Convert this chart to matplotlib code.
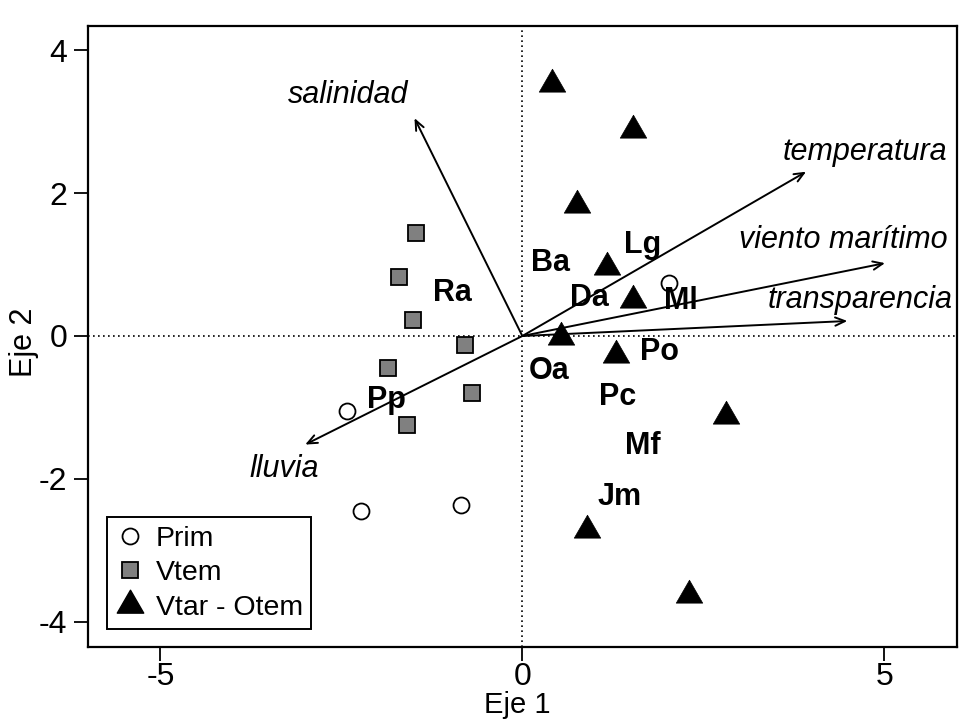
import matplotlib.pyplot as plt
from matplotlib.path import Path
from matplotlib.lines import Line2D

plt.rcParams['font.family'] = ['Liberation Sans', 'DejaVu Sans']
plt.rcParams['axes.unicode_minus'] = False

# sample scores (Eje 1, Eje 2)
prim_x = [-2.42, -2.23, -0.85, 2.03]
prim_y = [-1.05, -2.45, -2.36, 0.74]

vtem_x = [-1.47, -1.71, -1.51, -0.79, -1.86, -0.69, -1.59]
vtem_y = [1.44, 0.82, 0.23, -0.13, -0.45, -0.80, -1.24]

vtar_x = [0.41, 1.53, 0.76, 1.17, 1.53, 0.53, 1.29, 2.82, 0.90, 2.30]
vtar_y = [3.53, 2.88, 1.84, 0.97, 0.50, -0.01, -0.27, -1.12, -2.71, -3.63]

# species labels
sp_names = ['Ba', 'Lg', 'Ra', 'Da', 'Ml', 'Po', 'Oa', 'Pp', 'Pc', 'Mf', 'Jm']
sp_x = [0.39, 1.66, -0.97, 0.93, 2.19, 1.89, 0.37, -1.88, 1.31, 1.66, 1.34]
sp_y = [1.02, 1.27, 0.60, 0.53, 0.49, -0.23, -0.49, -0.90, -0.85, -1.54, -2.26]

# environmental vectors
env_names = ['salinidad', 'temperatura', 'viento marítimo', 'transparencia', 'lluvia']
env_x = [-1.49, 3.92, 5.01, 4.49, -3.0]
env_y = [3.05, 2.30, 1.02, 0.21, -1.52]
env_lab_x = [-2.41, 4.73, 4.43, 4.66, -3.29]
env_lab_y = [3.38, 2.58, 1.34, 0.50, -1.86]

tri = Path([(-1, -0.577), (1, -0.577), (0, 1.155), (-1, -0.577)],
           [Path.MOVETO, Path.LINETO, Path.LINETO, Path.CLOSEPOLY])

fig = plt.figure(figsize=(9.64, 7.2), dpi=100)
ax = fig.add_axes([0.0913, 0.1018, 0.9011, 0.8621])

ax.axhline(0, color='k', lw=1.2, ls=(0, (1, 2)), zorder=1)
ax.axvline(0, color='k', lw=1.2, ls=(0, (1, 2)), zorder=1)

for i in range(len(env_names)):
    ax.annotate('', xy=(env_x[i], env_y[i]), xytext=(0, 0),
                arrowprops=dict(arrowstyle='->,head_length=0.7,head_width=0.3',
                                lw=1.4, color='k', shrinkA=0, shrinkB=0), zorder=2)
    ax.text(env_lab_x[i], env_lab_y[i], env_names[i], fontsize=22, style='italic',
            ha='center', va='center')

ax.plot(prim_x, prim_y, 'o', ms=11.5, mfc='white', mec='k', mew=1.3, ls='none', zorder=3)
ax.plot(vtem_x, vtem_y, 's', ms=11.5, mfc='#808080', mec='k', mew=1.3, ls='none', zorder=3)
ax.plot(vtar_x, vtar_y, marker=tri, ms=22, mfc='k', mec='k', mew=0.5, ls='none', zorder=3)

for n, x, y in zip(sp_names, sp_x, sp_y):
    ax.text(x, y, n, fontsize=22, fontweight='bold', ha='center', va='center', zorder=4)

ax.set_xlim(-6, 6)
ax.set_ylim(-4.35, 4.34)
ax.set_xticks([-5, 0, 5])
ax.set_yticks([4, 2, 0, -2, -4])
ax.tick_params(labelsize=23, length=10, width=1.3, pad=5)
ax.tick_params(axis='x', pad=1)
for s in ax.spines.values():
    s.set_linewidth(1.6)

ax.set_xlabel('Eje 1', fontsize=21)
ax.set_ylabel('Eje 2', fontsize=22)
ax.xaxis.set_label_coords(0.494, -0.072)
ax.yaxis.set_label_coords(-0.056, 0.49)

handles = [
    Line2D([], [], marker='o', ms=11.5, mfc='white', mec='k', mew=1.3, ls='none'),
    Line2D([], [], marker='s', ms=11.5, mfc='#808080', mec='k', mew=1.3, ls='none'),
    Line2D([], [], marker=tri, ms=22, mfc='k', mec='k', ls='none'),
]
leg = ax.legend(handles, ['Prim', 'Vtem', 'Vtar - Otem'], loc='lower left',
                bbox_to_anchor=(0.022, 0.028), fontsize=20.5, fancybox=False,
                edgecolor='k', framealpha=1, handlelength=1.0, handletextpad=0.4,
                borderpad=0.3, labelspacing=0.3, borderaxespad=0)
leg.get_frame().set_linewidth(1.4)

fig.savefig('out.png', dpi=100)
